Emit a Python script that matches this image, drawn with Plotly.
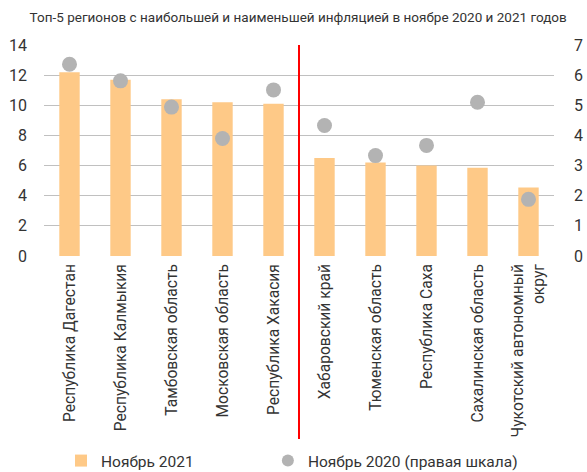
import plotly.graph_objects as go

regions = [
    "Республика Дагестан",
    "Республика Калмыкия",
    "Тамбовская область",
    "Московская область",
    "Республика Хакасия",
    "Хабаровский край",
    "Тюменская область",
    "Республика Саха",
    "Сахалинская область",
    "Чукотский автономный<br>округ",
]
nov_2021 = [12.2, 11.7, 10.4, 10.2, 10.1, 6.5, 6.2, 6.0, 5.85, 4.55]
nov_2020 = [6.36, 5.81, 4.94, 3.90, 5.51, 4.33, 3.33, 3.67, 5.10, 1.88]
left_ticks = [0, 2, 4, 6, 8, 10, 12, 14]
right_ticks = [0, 1, 2, 3, 4, 5, 6, 7]
title_text = "Топ-5 регионов с наибольшей и наименьшей инфляцией в ноябре 2020 и 2021 годов"

FONT = "Roboto"
TXT = "#333333"
PAD = "\u00a0" * 18

x_idx = list(range(len(regions)))

fig = go.Figure()
fig.add_trace(go.Bar(
    x=x_idx, y=nov_2021, name="Ноябрь 2021" + PAD,
    marker=dict(color="#fec987", line=dict(width=0)),
    width=0.4, yaxis="y",
))
fig.add_trace(go.Scatter(
    x=x_idx, y=nov_2020, name="Ноябрь 2020 (правая шкала)",
    mode="markers",
    marker=dict(color="#b3b3b3", size=15, line=dict(width=0)),
    yaxis="y2",
))

fig.add_shape(type="line", xref="x", yref="paper",
              x0=4.5, x1=4.5, y0=-0.867, y1=1.0,
              line=dict(color="#ff0000", width=2), layer="above")

fig.update_layout(
    width=587, height=472, autosize=False,
    margin=dict(l=44, r=33, t=45, b=216, pad=0),
    paper_bgcolor="white", plot_bgcolor="white",
    font=dict(family=FONT, color=TXT, size=15),
    title=dict(text=title_text, x=0.508, xanchor="center", xref="container",
               y=1 - 17 / 472, yanchor="middle", yref="container",
               font=dict(size=13.5, family=FONT, color=TXT)),
    xaxis=dict(
        tickmode="array", tickvals=x_idx, ticktext=regions,
        tickangle=-90, range=[-0.5, 9.5], showgrid=False,
        showline=False, zeroline=False, ticks="", automargin=False,
        tickfont=dict(size=15.6, family=FONT, color=TXT),
        ticklabelstandoff=4,
    ),
    yaxis=dict(
        range=[0, 14], tickmode="array", tickvals=left_ticks,
        showgrid=True, gridcolor="#c0c0c0", gridwidth=1,
        zeroline=False, showline=False, ticks="", automargin=False,
        tickfont=dict(size=16, family=FONT, color=TXT),
        ticklabelstandoff=16,
    ),
    yaxis2=dict(
        range=[0, 7], tickmode="array", tickvals=right_ticks,
        overlaying="y", side="right", showgrid=False,
        zeroline=False, showline=False, ticks="", automargin=False,
        tickfont=dict(size=16, family=FONT, color=TXT),
        ticklabelstandoff=19,
    ),
    showlegend=True,
    legend=dict(
        orientation="h", xref="container", yref="container",
        x=61 / 587, xanchor="left", y=1 - 461 / 472, yanchor="middle",
        font=dict(size=15.5, family=FONT, color=TXT),
        itemsizing="constant", bgcolor="rgba(0,0,0,0)",
    ),
    bargap=0.6,
)

fig.write_html("out.html", post_script="document.body.style.margin='0';",
               config={"displayModeBar": False})
